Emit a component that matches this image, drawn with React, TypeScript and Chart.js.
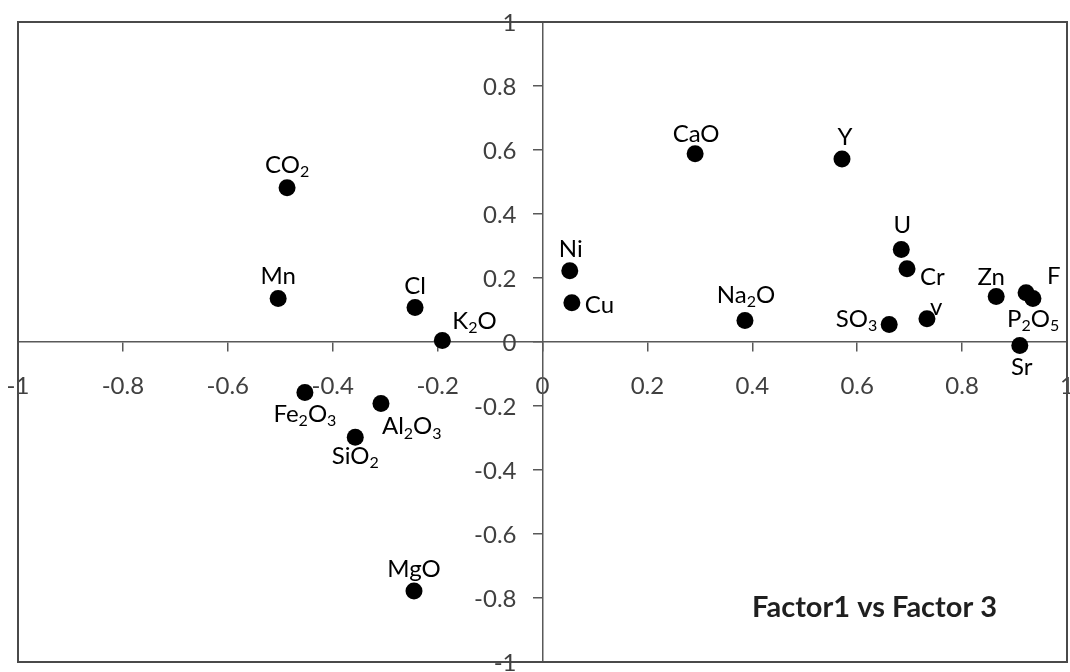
import React, { useEffect, useRef } from "react";
import { Chart, registerables } from "chart.js";

Chart.register(...registerables);

// ---- data ----
const pointNames = ["CO₂", "Mn", "Cl", "K₂O", "Fe₂O₃", "Al₂O₃", "SiO₂", "MgO", "Ni", "Cu", "CaO", "Y", "Na₂O", "U", "Cr", "SO₃", "v", "Zn", "F", "P₂O₅", "Sr"];
const factor1 = [-0.487, -0.504, -0.243, -0.191, -0.453, -0.308, -0.357, -0.245, 0.052, 0.056, 0.291, 0.571, 0.386, 0.684, 0.695, 0.661, 0.733, 0.865, 0.935, 0.922, 0.910];
const factor3 = [0.482, 0.136, 0.108, 0.005, -0.158, -0.192, -0.298, -0.778, 0.223, 0.123, 0.588, 0.572, 0.067, 0.289, 0.229, 0.055, 0.073, 0.142, 0.136, 0.154, -0.011];
const tickValues = [-1, -0.8, -0.6, -0.4, -0.2, 0, 0.2, 0.4, 0.6, 0.8, 1];
const chartTitle = "Factor1 vs Factor 3";

// ---- label placement (pixel offsets from the point centre to label baseline) ----
const labelPlacement: [number, number, CanvasTextAlign][] = [
  [0, -15, "center"],
  [0, -14, "center"],
  [0, -13, "center"],
  [10, -11, "left"],
  [0, 29, "center"],
  [1, 31, "left"],
  [0, 27, "center"],
  [0, -14, "center"],
  [1, -14, "center"],
  [13, 10, "left"],
  [1, -12, "center"],
  [3, -14, "center"],
  [1, -18, "center"],
  [1, -17, "center"],
  [13, 16, "left"],
  [-12, 3, "right"],
  [3, -4, "left"],
  [-5, -12, "center"],
  [14, -14, "left"],
  [7, 34, "center"],
  [2, 29, "center"],
];

const FONT = "Lato";
const LABEL_SIZE = 24;
const TICK_SIZE = 24;
const AXIS_COLOR = "#595959";
const TICK_TEXT = "#404040";

const SUBS = "₀₁₂₃₄₅₆₇₈₉";

function fmt(v: number): string {
  const r = Math.round(v * 10) / 10;
  return r === 0 ? "0" : String(r);
}

function drawRich(ctx: CanvasRenderingContext2D, text: string, x: number, y: number, align: CanvasTextAlign, size: number) {
  const segs: { t: string; sub: boolean }[] = [];
  for (const ch of Array.from(text)) {
    const idx = SUBS.indexOf(ch);
    const sub = idx >= 0;
    const c = sub ? String(idx) : ch;
    const last = segs[segs.length - 1];
    if (last && last.sub === sub) last.t += c;
    else segs.push({ t: c, sub });
  }
  const subSize = Math.round(size * 0.68);
  const normalFont = `${size}px ${FONT}`;
  const subFont = `${subSize}px ${FONT}`;
  let total = 0;
  const widths = segs.map((s) => {
    ctx.font = s.sub ? subFont : normalFont;
    const w = ctx.measureText(s.t).width;
    total += w;
    return w;
  });
  let cx = x;
  if (align === "center") cx = x - total / 2;
  else if (align === "right") cx = x - total;
  ctx.textAlign = "left";
  ctx.textBaseline = "alphabetic";
  segs.forEach((s, i) => {
    ctx.font = s.sub ? subFont : normalFont;
    ctx.fillText(s.t, cx, s.sub ? y + size * 0.17 : y);
    cx += widths[i];
  });
}

const framePlugin = {
  id: "frame",
  afterDraw(chart: any) {
    const { ctx, chartArea } = chart;
    ctx.save();
    ctx.strokeStyle = "#4a4a4a";
    ctx.lineWidth = 2;
    ctx.strokeRect(chartArea.left, chartArea.top, chartArea.right - chartArea.left, chartArea.bottom - chartArea.top);
    // y tick labels, right aligned left of the vertical axis
    const xs = chart.scales.x;
    const ys = chart.scales.y;
    const ax = xs.getPixelForValue(0);
    ctx.fillStyle = TICK_TEXT;
    ctx.font = `${TICK_SIZE}px ${FONT}`;
    ctx.textAlign = "right";
    ctx.textBaseline = "middle";
    ys.ticks.forEach((t: any) => {
      ctx.fillText(fmt(t.value), ax - 26, ys.getPixelForValue(t.value) + 1);
    });
    // title
    ctx.fillStyle = "#1f1f1f";
    ctx.font = `bold 29px ${FONT}`;
    ctx.textAlign = "left";
    ctx.textBaseline = "alphabetic";
    ctx.fillText(chartTitle, chartArea.right - 315, chartArea.bottom - 45);
    ctx.restore();
  },
};

const labelPlugin = {
  id: "pointLabels",
  afterDatasetsDraw(chart: any) {
    const { ctx } = chart;
    const meta = chart.getDatasetMeta(0);
    ctx.save();
    ctx.fillStyle = "#000";
    meta.data.forEach((el: any, i: number) => {
      const [dx, dy, align] = labelPlacement[i];
      drawRich(ctx, pointNames[i], el.x + dx, el.y + dy, align, LABEL_SIZE);
    });
    ctx.restore();
  },
};

function zeroPadding(scale: any) {
  scale.paddingLeft = 0;
  scale.paddingRight = 0;
  scale.paddingTop = 0;
  scale.paddingBottom = 0;
}

export default function App() {
  const ref = useRef<HTMLCanvasElement>(null);
  useEffect(() => {
    document.body.style.margin = "0";
    const canvas = ref.current!;
    const chart = new Chart(canvas, {
      type: "scatter",
      data: {
        datasets: [
          {
            data: factor1.map((x, i) => ({ x, y: factor3[i] })),
            backgroundColor: "#000",
            borderColor: "#000",
            borderWidth: 0,
            pointRadius: 8.5,
            pointHoverRadius: 8.5,
          },
        ],
      },
      options: {
        responsive: false,
        animation: false,
        devicePixelRatio: 1,
        layout: { padding: { left: 18, top: 22, right: 3, bottom: 10 } },
        plugins: { legend: { display: false }, tooltip: { enabled: false }, title: { display: false } },
        scales: {
          x: {
            type: "linear",
            min: -1,
            max: 1,
            position: { y: 0 } as any,
            afterBuildTicks: (s: any) => {
              s.ticks = tickValues.map((v) => ({ value: v }));
            },
            afterFit: zeroPadding,
            grid: { drawOnChartArea: false, drawTicks: true, tickLength: 9, color: AXIS_COLOR, lineWidth: 1.5 },
            border: { display: true, color: AXIS_COLOR, width: 1.5 },
            ticks: {
              padding: 21,
              color: TICK_TEXT,
              font: { family: FONT, size: TICK_SIZE },
              maxRotation: 0,
              autoSkip: false,
              callback: (v: any) => fmt(Number(v)),
            },
          },
          y: {
            type: "linear",
            min: -1,
            max: 1,
            position: { x: 0 } as any,
            afterBuildTicks: (s: any) => {
              s.ticks = tickValues.map((v) => ({ value: v }));
            },
            afterFit: zeroPadding,
            grid: { drawOnChartArea: false, drawTicks: true, tickLength: 9, color: AXIS_COLOR, lineWidth: 1.5 },
            border: { display: true, color: AXIS_COLOR, width: 1.5 },
            ticks: { display: false, padding: 0, font: { family: FONT, size: TICK_SIZE } },
          },
        },
      },
      plugins: [framePlugin, labelPlugin],
    });
    // the point markers may overflow the plot frame (as in the reference); no extra layout padding
    const ctrl: any = chart.getDatasetMeta(0).controller;
    ctrl.getMaxOverflow = () => false;
    chart.update();
    return () => chart.destroy();
  }, []);
  return (
    <div style={{ position: "absolute", left: 0, top: 0, width: 1070, height: 672, background: "#fff" }}>
      <canvas ref={ref} width={1070} height={672} style={{ display: "block" }} />
    </div>
  );
}
